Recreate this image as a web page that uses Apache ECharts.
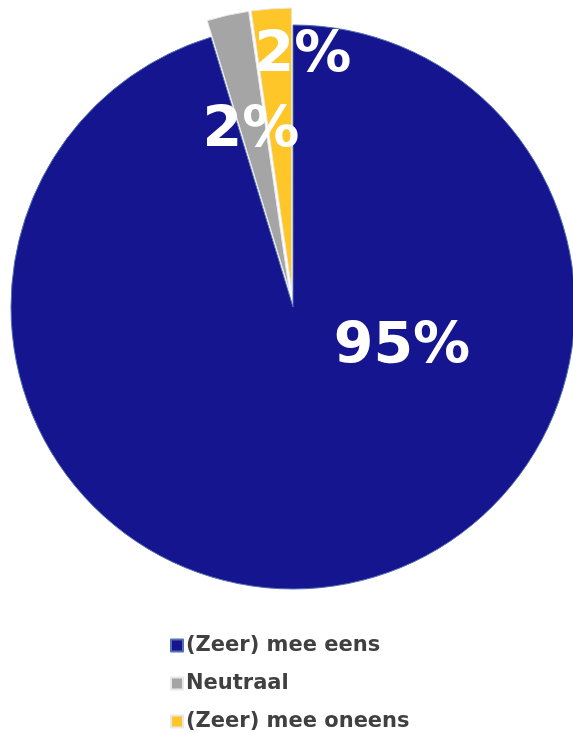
<!DOCTYPE html>
<html><head><meta charset="utf-8">
<script src="https://cdn.jsdelivr.net/npm/echarts@6/dist/echarts.min.js"></script>
<style>html,body{margin:0;padding:0;background:#fff}#c{width:573px;height:733px}</style>
</head><body><div id="c"></div>
<script>
const categories = ['(Zeer) mee eens', 'Neutraal', '(Zeer) mee oneens'];
const values = [95.3, 2.4, 2.3];
const labels = ['95%', '2%', '2%'];
const colors = ['#15158f', '#a5a5a5', '#ffc629'];
const exploded = [false, true, true];
// label anchor positions (pixels) as placed in the reference
const labelPos = [[402, 348], [251, 132], [303, 57]];

const chart = echarts.init(document.getElementById('c'), null, {renderer: 'canvas'});
chart.setOption({
  animation: false,
  color: colors,
  legend: {
    orient: 'vertical',
    left: 170,
    top: 635,
    padding: 0,
    itemWidth: 12,
    itemHeight: 12,
    itemGap: 17,
    icon: 'rect',
    textStyle: {fontFamily: 'DejaVu Sans', fontWeight: 'bold', fontSize: 21, color: '#404040', padding: [0, 0, 0, -2]},
    data: categories
  },
  series: [{
    type: 'pie',
    center: [293, 307],
    radius: 282,
    startAngle: 90,
    clockwise: true,
    selectedMode: 'multiple',
    selectedOffset: 17,
    emphasis: {disabled: true},
    labelLine: {show: false},
    label: {show: false},
    data: categories.map((c, i) => ({
      name: c,
      value: values[i],
      selected: exploded[i],
      itemStyle: {
        color: colors[i],
        borderColor: i === 0 ? '#5470b0' : '#e8e8e8',
        borderWidth: 1
      }
    }))
  }, {
    type: 'pie',
    center: [293, 307],
    radius: 282,
    startAngle: 90,
    clockwise: true,
    silent: true,
    selectedMode: false,
    emphasis: {disabled: true},
    labelLine: {show: false},
    itemStyle: {color: 'rgba(0,0,0,0)', borderWidth: 0},
    label: {
      show: true,
      position: 'inside',
      fontFamily: 'DejaVu Sans',
      fontWeight: 'bold',
      fontSize: 57,
      color: '#ffffff',
      formatter: p => labels[p.dataIndex]
    },
    labelLayout: p => ({x: labelPos[p.dataIndex][0], y: labelPos[p.dataIndex][1], align: 'center', verticalAlign: 'middle'}),
    data: categories.map((c, i) => ({name: c, value: values[i]}))
  }]
});
</script></body></html>
